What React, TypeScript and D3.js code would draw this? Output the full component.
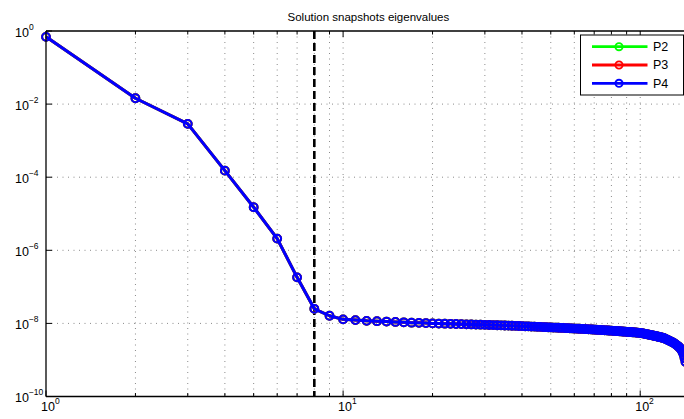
import React from "react";
import * as d3 from "d3";

// ---- data ----
const snapshotIndex: number[] = d3.range(1, 143);
const eigenvalues: number[] = [
  0.692, 0.01445, 0.00288, 1.51e-4, 1.51e-5, 2.09e-6, 1.82e-7, 2.51e-8, 1.62e-8, 1.29e-8,
  1.23e-8, 1.175e-8, 1.148e-8, 1.122e-8, 1.096e-8, 1.072e-8, 1.047e-8, 1.035e-8, 1.023e-8, 1.0e-8,
  9.91e-9, 9.82e-9, 9.73e-9, 9.64e-9, 9.55e-9, 9.46e-9, 9.38e-9, 9.29e-9, 9.2e-9, 9.12e-9,
  9.05e-9, 8.97e-9, 8.9e-9, 8.83e-9, 8.76e-9, 8.69e-9, 8.62e-9, 8.55e-9, 8.48e-9, 8.41e-9,
  8.34e-9, 8.28e-9, 8.21e-9, 8.15e-9, 8.08e-9, 8.02e-9, 7.95e-9, 7.89e-9, 7.83e-9, 7.76e-9,
  7.71e-9, 7.66e-9, 7.6e-9, 7.55e-9, 7.5e-9, 7.45e-9, 7.4e-9, 7.34e-9, 7.29e-9, 7.24e-9,
  7.19e-9, 7.14e-9, 7.09e-9, 7.05e-9, 7.0e-9, 6.95e-9, 6.9e-9, 6.85e-9, 6.81e-9, 6.76e-9,
  6.71e-9, 6.67e-9, 6.62e-9, 6.57e-9, 6.53e-9, 6.48e-9, 6.44e-9, 6.4e-9, 6.35e-9, 6.31e-9,
  6.26e-9, 6.22e-9, 6.18e-9, 6.14e-9, 6.09e-9, 6.05e-9, 6.01e-9, 5.97e-9, 5.93e-9, 5.89e-9,
  5.85e-9, 5.81e-9, 5.77e-9, 5.73e-9, 5.69e-9, 5.65e-9, 5.61e-9, 5.57e-9, 5.53e-9, 5.5e-9,
  5.41e-9, 5.32e-9, 5.24e-9, 5.15e-9, 5.07e-9, 4.99e-9, 4.91e-9, 4.83e-9, 4.75e-9, 4.68e-9,
  4.6e-9, 4.53e-9, 4.46e-9, 4.38e-9, 4.31e-9, 4.24e-9, 4.18e-9, 4.11e-9, 4.04e-9, 3.98e-9,
  3.85e-9, 3.73e-9, 3.61e-9, 3.5e-9, 3.39e-9, 3.28e-9, 3.18e-9, 3.07e-9, 2.98e-9, 2.88e-9,
  2.75e-9, 2.63e-9, 2.51e-9, 2.4e-9, 2.26e-9, 2.14e-9, 2.0e-9, 1.82e-9, 1.62e-9, 1.38e-9,
  1.12e-9, 8.9e-10,
];
const seriesNames: string[] = ["P2", "P3", "P4"];
const seriesColors: string[] = ["#00ff00", "#ff0000", "#0000ff"];
const cutoffIndex = 8;
const xDomain: [number, number] = [1, 148];
const yDomain: [number, number] = [1e-10, 1];
const xTickExponents: number[] = [0, 1, 2];
const yTickExponents: number[] = [0, -2, -4, -6, -8, -10];
const titleText = "Solution snapshots eigenvalues";

const W = 684;
const H = 419;
const M = { left: 46, right: 690.8, top: 31, bottom: 396.5 };
const FONT = "'Liberation Sans', Arial, Helvetica, sans-serif";

export default function App() {
  const x = d3.scaleLog().domain(xDomain).range([M.left, M.right]);
  const y = d3.scaleLog().domain(yDomain).range([M.bottom, M.top]);

  const pts = snapshotIndex.map((k, i) => [k, eigenvalues[i]] as [number, number]);
  const line = d3
    .line<[number, number]>()
    .x((d) => x(d[0]))
    .y((d) => y(d[1]));

  const minorX: number[] = [];
  for (let e = 0; e <= 2; e++) {
    for (let m = 1; m <= 9; m++) {
      const v = m * Math.pow(10, e);
      if (v >= xDomain[0] && v <= xDomain[1]) minorX.push(v);
    }
  }
  const gridColor = "#8a8a8a";
  const dots = "1,4.5";

  const legendX = 580.5;
  const legendY = 35;
  const legendW = 103;
  const legendH = 60;
  const rowY = [46.7, 65, 83.3];

  return (
    <svg
      width={W}
      height={H}
      style={{ position: "absolute", left: 0, top: 0, background: "#fff" }}
      fontFamily={FONT}
    >
      <rect x={0} y={0} width={W} height={H} fill="#fff" />
      <g>
        {minorX
          .filter((v) => v > 1)
          .map((v) => (
            <line
              key={"gx" + v}
              x1={x(v)}
              x2={x(v)}
              y1={M.top}
              y2={M.bottom}
              stroke={gridColor}
              strokeWidth={1}
              strokeDasharray={dots}
            />
          ))}
        {yTickExponents
          .filter((e) => e !== 0 && e !== -10)
          .map((e) => (
            <line
              key={"gy" + e}
              x1={M.left}
              x2={M.right}
              y1={y(Math.pow(10, e))}
              y2={y(Math.pow(10, e))}
              stroke={gridColor}
              strokeWidth={1}
              strokeDasharray={dots}
            />
          ))}
      </g>
      <g stroke="#000" strokeWidth={1}>
        {minorX.map((v) => {
          const major = xTickExponents.some((e) => Math.abs(Math.pow(10, e) - v) < 1e-9);
          const len = major ? 6 : 3.5;
          return (
            <g key={"tx" + v}>
              <line x1={x(v)} x2={x(v)} y1={M.bottom} y2={M.bottom - len} />
              <line x1={x(v)} x2={x(v)} y1={M.top} y2={M.top + len} />
            </g>
          );
        })}
        {yTickExponents.map((e) => (
          <line
            key={"ty" + e}
            x1={M.left}
            x2={M.left + 6}
            y1={y(Math.pow(10, e))}
            y2={y(Math.pow(10, e))}
          />
        ))}
      </g>
      <line
        x1={x(cutoffIndex)}
        x2={x(cutoffIndex)}
        y1={M.top}
        y2={M.bottom}
        stroke="#000"
        strokeWidth={2.6}
        strokeDasharray="8,4"
      />
      {seriesNames.map((name, si) => (
        <g key={name}>
          <path d={line(pts) || ""} fill="none" stroke={seriesColors[si]} strokeWidth={3} strokeLinejoin="round" />
          {pts.map((p, i) => (
            <circle
              key={i}
              cx={x(p[0])}
              cy={y(p[1])}
              r={3.9}
              fill="none"
              stroke={seriesColors[si]}
              strokeWidth={2}
            />
          ))}
        </g>
      ))}
      <g stroke="#000" strokeWidth={1.3} fill="none">
        <line x1={M.left} x2={M.right} y1={M.top} y2={M.top} />
        <line x1={M.left} x2={M.right} y1={M.bottom} y2={M.bottom} />
        <line x1={M.left} x2={M.left} y1={M.top} y2={M.bottom} />
        <line x1={M.right} x2={M.right} y1={M.top} y2={M.bottom} />
      </g>
      {yTickExponents.map((e) => (
        <text key={"ly" + e} x={15} y={y(Math.pow(10, e)) + 5.5} fontSize={12.5} fill="#000">
          10
          <tspan dy={-7} fontSize={8.5}>
            {e < 0 ? "\u2212" + Math.abs(e) : String(e)}
          </tspan>
        </text>
      ))}
      {xTickExponents.map((e) => (
        <text
          key={"lx" + e}
          x={x(Math.pow(10, e)) - 5}
          y={M.bottom + 14}
          fontSize={12.5}
          fill="#000"
        >
          10
          <tspan dy={-7} fontSize={8.5}>
            {String(e)}
          </tspan>
        </text>
      ))}
      <text x={(M.left + M.right) / 2} y={20.5} fontSize={11.5} textAnchor="middle" fill="#000">
        {titleText}
      </text>
      <g>
        <rect x={legendX} y={legendY} width={legendW} height={legendH} fill="#fff" stroke="#000" strokeWidth={1} />
        {seriesNames.map((name, si) => (
          <g key={"lg" + name}>
            <line x1={592} x2={647.5} y1={rowY[si]} y2={rowY[si]} stroke={seriesColors[si]} strokeWidth={2.8} />
            <circle cx={619} cy={rowY[si]} r={3.6} fill="none" stroke={seriesColors[si]} strokeWidth={1.9} />
            <text x={653} y={rowY[si] + 4.3} fontSize={12.5} fill="#000">
              {name}
            </text>
          </g>
        ))}
      </g>
    </svg>
  );
}
